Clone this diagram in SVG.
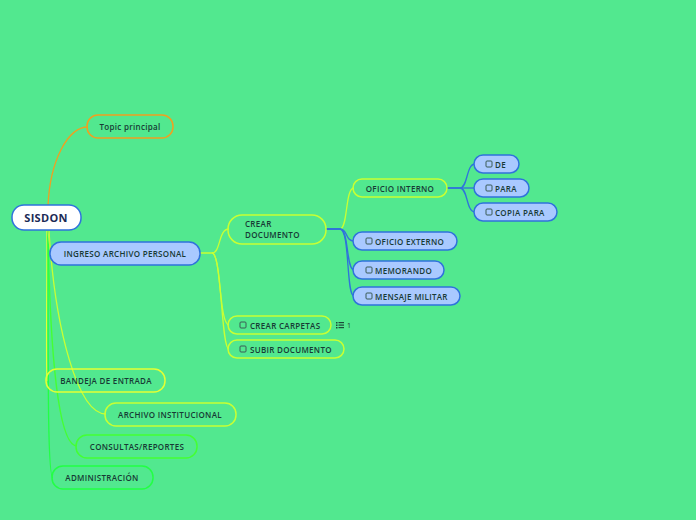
<svg xmlns="http://www.w3.org/2000/svg" width="696" height="520" viewBox="0 0 696 520">
<style>
text{font-family:"Open Sans","Noto Sans","Liberation Sans",sans-serif;font-weight:600;font-size:8px;letter-spacing:0.3px;fill:#173a35}
.c{text-anchor:middle;dominant-baseline:central}
.l{dominant-baseline:central}
.blue rect.b{fill:#a9c9ff;stroke:#2f72dc;stroke-width:1.5}
.out rect.b{fill:none;stroke-width:1.5}
.chk{fill:none;stroke:#3a5a55;stroke-width:1}
.conn path{fill:none;stroke-width:1.3}
</style>
<rect width="696" height="520" fill="#52e88f"/>
<g id="connectors" class="conn">
<path d="M48,206 C50,160 68,127 88,127" stroke="#f0a020" stroke-width="1.6"/>
<path d="M47,231 C47,300 46,360 47,381" stroke="#e4ff33"/>
<path d="M49,231 C55,330 78,414 106,414" stroke="#c8ff33"/>
<path d="M48,231 C50,350 58,446 77,446" stroke="#44ff33"/>
<path d="M48,231 C48,400 48,478 53,478" stroke="#22ff44"/>
<path d="M48,231 C49,240 50,253 52,253" stroke="#b4f050"/>
<path d="M200,253 L212,253 C221,253 218,229 229,229" stroke="#c8ff33"/>
<path d="M212,253 C221,253 219,325 229,325" stroke="#c8ff33"/>
<path d="M212,253 C222,253 221,349 229,349" stroke="#c8ff33"/>
<path d="M326,229 L340,229 C348,229 345,188 354,188" stroke="#c8ff33"/>
<path d="M326,229 L340,229 C348,229 345,241 354,241" stroke="#2f72dc"/>
<path d="M326,229 L340,229 C349,229 346,270 354,270" stroke="#2f72dc"/>
<path d="M326,229 L340,229 C350,229 346,296 354,296" stroke="#2f72dc"/>
<path d="M447,188 L460,188 C468,188 466,164 475,164" stroke="#2f72dc"/>
<path d="M447,188 L475,188" stroke="#2f72dc"/>
<path d="M460,188 C468,188 466,212 475,212" stroke="#2f72dc"/>
</g>
<g id="sisdon">
<rect x="12" y="205" width="69" height="25" rx="12" fill="#ffffff" stroke="#2f72dc" stroke-width="1.5"/>
<text x="46" y="217.5" class="c" style="font-size:11px;font-weight:700;fill:#1b2a55">SISDON</text>
</g>
<g id="topic-principal" class="out">
<rect class="b" x="87" y="115" width="86" height="23" rx="11" stroke="#f0a020"/>
<text x="130" y="126.5" class="c">Topic principal</text>
</g>
<g id="ingreso" class="blue">
<rect class="b" x="50" y="242" width="150" height="23" rx="11"/>
<text x="125" y="253" class="c">INGRESO ARCHIVO PERSONAL</text>
</g>
<g id="crear-documento" class="out">
<rect class="b" x="228" y="215" width="98" height="29" rx="14" stroke="#c8ff33"/>
<text x="245" y="223.5" class="l">CREAR</text>
<text x="245" y="234.5" class="l">DOCUMENTO</text>
</g>
<g id="oficio-interno" class="out">
<rect class="b" x="353" y="179" width="94" height="18" rx="9" stroke="#c8ff33"/>
<text x="400" y="188" class="c">OFICIO INTERNO</text>
</g>
<g id="de" class="blue">
<rect class="b" x="474" y="155" width="45" height="18" rx="9"/>
<rect class="chk" x="486" y="161" width="6" height="6" rx="1"/>
<text x="495" y="164" class="l">DE</text>
</g>
<g id="para" class="blue">
<rect class="b" x="474" y="179" width="55" height="18" rx="9"/>
<rect class="chk" x="486" y="185" width="6" height="6" rx="1"/>
<text x="495" y="188" class="l">PARA</text>
</g>
<g id="copia-para" class="blue">
<rect class="b" x="474" y="203" width="83" height="18" rx="9"/>
<rect class="chk" x="486" y="209" width="6" height="6" rx="1"/>
<text x="495" y="212" class="l">COPIA PARA</text>
</g>
<g id="oficio-externo" class="blue">
<rect class="b" x="353" y="232" width="104" height="18" rx="9"/>
<rect class="chk" x="366" y="238" width="6" height="6" rx="1"/>
<text x="375" y="241" class="l">OFICIO EXTERNO</text>
</g>
<g id="memorando" class="blue">
<rect class="b" x="353" y="261" width="91" height="18" rx="9"/>
<rect class="chk" x="366" y="267" width="6" height="6" rx="1"/>
<text x="375" y="270" class="l">MEMORANDO</text>
</g>
<g id="mensaje-militar" class="blue">
<rect class="b" x="353" y="287" width="107" height="18" rx="9"/>
<rect class="chk" x="366" y="293" width="6" height="6" rx="1"/>
<text x="375" y="296" class="l">MENSAJE MILITAR</text>
</g>
<g id="crear-carpetas" class="out">
<rect class="b" x="228" y="316" width="103" height="18" rx="9" stroke="#c8ff33"/>
<rect class="chk" x="240" y="322" width="6" height="6" rx="1"/>
<text x="250" y="325" class="l">CREAR CARPETAS</text>
<g fill="#1e4a3a">
<rect x="336" y="322" width="1.5" height="1.5"/><rect x="338.5" y="322" width="5.5" height="1.2"/>
<rect x="336" y="324.5" width="1.5" height="1.5"/><rect x="338.5" y="324.5" width="5.5" height="1.2"/>
<rect x="336" y="327" width="1.5" height="1.5"/><rect x="338.5" y="327" width="5.5" height="1.2"/>
</g>
<text x="347" y="325.5" class="l" style="font-weight:400;font-size:7px;letter-spacing:0">1</text>
</g>
<g id="subir-documento" class="out">
<rect class="b" x="228" y="340" width="116" height="18" rx="9" stroke="#c8ff33"/>
<rect class="chk" x="240" y="346" width="6" height="6" rx="1"/>
<text x="250" y="349" class="l">SUBIR DOCUMENTO</text>
</g>
<g id="bandeja" class="out">
<rect class="b" x="46" y="369" width="119" height="23" rx="11" stroke="#e4ff33"/>
<text x="106" y="380.5" class="c">BANDEJA DE ENTRADA</text>
</g>
<g id="archivo-institucional" class="out">
<rect class="b" x="105" y="403" width="131" height="23" rx="11" stroke="#c8ff33"/>
<text x="170" y="414" class="c">ARCHIVO INSTITUCIONAL</text>
</g>
<g id="consultas" class="out">
<rect class="b" x="76" y="435" width="121" height="23" rx="11" stroke="#44ff33"/>
<text x="137" y="446" class="c">CONSULTAS/REPORTES</text>
</g>
<g id="administracion" class="out">
<rect class="b" x="52" y="466" width="101" height="23" rx="11" stroke="#22ff44"/>
<text x="102" y="477.5" class="c">ADMINISTRACIÓN</text>
</g>
</svg>
